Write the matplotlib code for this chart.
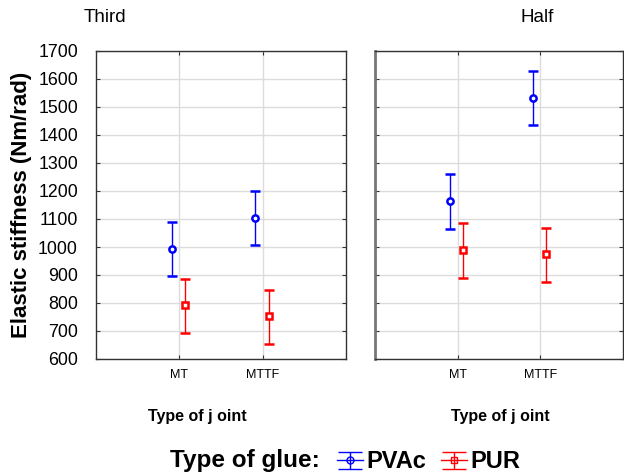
import matplotlib
matplotlib.use('Agg')
import numpy as np
from matplotlib import pyplot as plt
from matplotlib.ticker import MultipleLocator
from matplotlib.legend_handler import HandlerErrorbar

plt.rcParams['font.family'] = ['Liberation Sans', 'DejaVu Sans']

# data
joints = ['MT', 'MTTF']
panels = ['Third', 'Half']
glues = ['PVAc', 'PUR']

# mean, lower and upper ends of the bars, per panel [MT, MTTF]
pvac_mean = {'Third': [993, 1105], 'Half': [1163, 1532]}
pvac_low = {'Third': [895, 1006], 'Half': [1065, 1434]}
pvac_high = {'Third': [1088, 1200], 'Half': [1260, 1627]}
pur_mean = {'Third': [792, 755], 'Half': [990, 974]}
pur_low = {'Third': [692, 652], 'Half': [890, 876]}
pur_high = {'Third': [886, 848], 'Half': [1086, 1069]}

BLUE = '#0000ff'
RED = '#ff0000'

fig = plt.figure(figsize=(6.24, 4.74), dpi=100)
W, H = 624.0, 474.0
ax1 = fig.add_axes([96 / W, 1 - 359 / H, 250 / W, 308 / H])
ax2 = fig.add_axes([375 / W, 1 - 359 / H, 248 / W, 308 / H])

x = np.arange(len(joints))
for ax, name in zip([ax1, ax2], panels):
    m = np.array(pvac_mean[name])
    e = [m - np.array(pvac_low[name]), np.array(pvac_high[name]) - m]
    ax.errorbar(x - 0.09, m, yerr=e, fmt='o', color=BLUE, mfc='white',
                mec=BLUE, ms=4.5, mew=1.8, elinewidth=1, capsize=3.5, capthick=1,
                zorder=3)
    m = np.array(pur_mean[name])
    e = [m - np.array(pur_low[name]), np.array(pur_high[name]) - m]
    ax.errorbar(x + 0.07, m, yerr=e, fmt='s', color=RED, mfc='white',
                mec=RED, ms=4.5, mew=1.8, elinewidth=1, capsize=3.5, capthick=1,
                zorder=3)

    ax.set_xlim(-1, 2)
    ax.set_ylim(600, 1700)
    ax.set_xticks(x)
    ax.set_xticklabels(joints)
    ax.yaxis.set_major_locator(MultipleLocator(100))
    ax.grid(True, color='#dcdcdc', linewidth=1)
    ax.set_axisbelow(True)
    ax.tick_params(direction='in', length=3, top=True, right=True,
                   color='#333333')
    ax.tick_params(axis='y', labelsize=12.8, pad=13)
    ax.tick_params(axis='x', labelsize=9, pad=7)
    for s in ax.spines.values():
        s.set_color('#333333')
        s.set_linewidth(1)

ax2.tick_params(labelleft=False)
ax2.spines['left'].set_color('#777777')
ax2.spines['left'].set_linewidth(2)
ax1.set_ylabel('Elastic stiffness (Nm/rad)', fontsize=16, fontweight='bold')
ax1.yaxis.set_label_coords(-0.256, 0.5)

fig.text(105 / W, 1 - 18 / H, 'Third', fontsize=13.5, ha='center', va='center')
fig.text(537 / W, 1 - 18 / H, 'Half', fontsize=13.5, ha='center', va='center')
fig.text(197 / W, 1 - 417 / H, 'Type of j oint', fontsize=11.5, fontweight='bold',
         ha='center', va='center')
fig.text(500 / W, 1 - 417 / H, 'Type of j oint', fontsize=11.5, fontweight='bold',
         ha='center', va='center')

# legend proxies (nan data so nothing is drawn on the axes)
h1 = ax1.errorbar([np.nan], [np.nan], yerr=[1], fmt='-o', color=BLUE, mfc='none',
                  ms=5, mew=1, lw=1, capsize=8.5, capthick=1)
h2 = ax1.errorbar([np.nan], [np.nan], yerr=[1], fmt='-s', color=RED, mfc='none',
                  ms=5, mew=1, lw=1, capsize=8.5, capthick=1)

fig.text(170 / W, 1 - 461 / H, 'Type of glue:', fontsize=17.5, fontweight='bold',
         ha='left', va='center')
fig.legend([h1, h2], glues, loc='center left', bbox_to_anchor=(337 / W, 1 - 462 / H),
           ncol=2, frameon=False, prop={'size': 17, 'weight': 'bold'},
           handlelength=1.1, handletextpad=0.15, columnspacing=0.6, borderpad=0,
           borderaxespad=0, handler_map={type(h1): HandlerErrorbar(xerr_size=0.35)})

fig.savefig('out.png', dpi=100)
